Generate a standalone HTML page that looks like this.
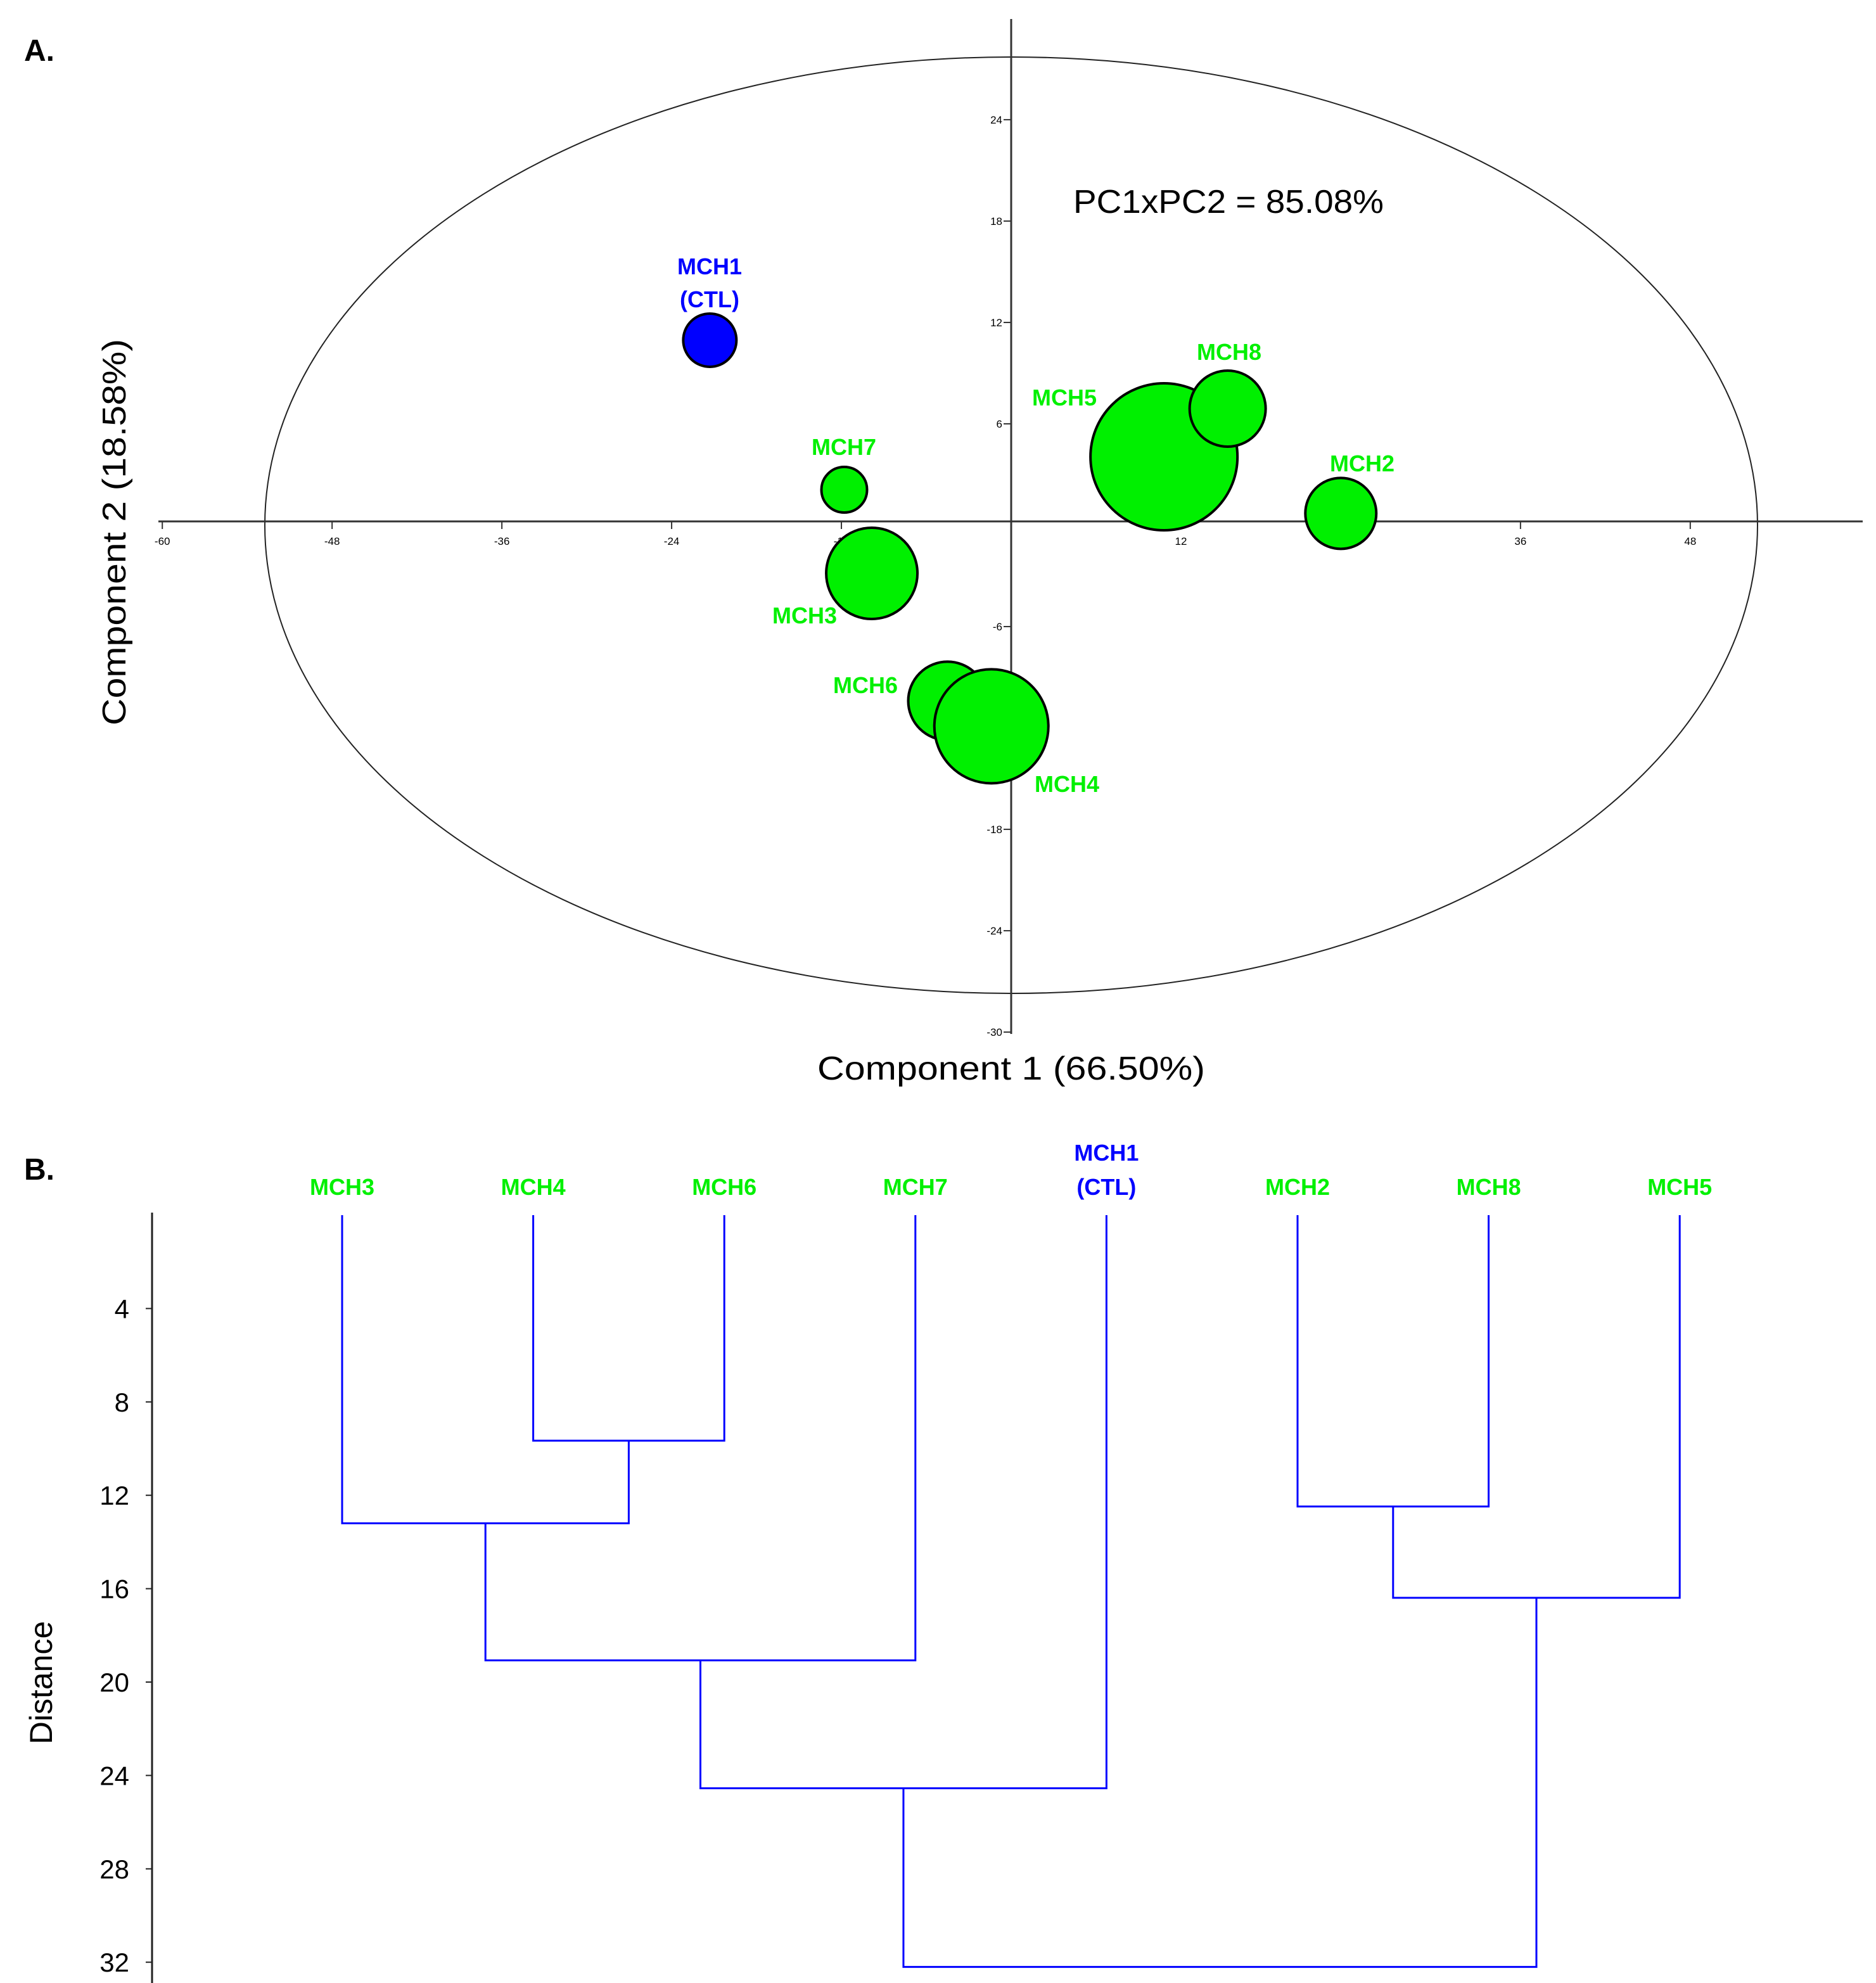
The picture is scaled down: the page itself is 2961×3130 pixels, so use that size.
<!DOCTYPE html>
<html><head><meta charset="utf-8"><style>
html,body{margin:0;padding:0;background:#fff;}
svg{display:block;}
text{font-family:"Liberation Sans",sans-serif;}
</style></head><body>
<svg id="fig" width="2961" height="3130" viewBox="0 0 2961 3130" xmlns="http://www.w3.org/2000/svg">
<text x="38" y="96" font-size="48" font-weight="bold">A.</text>
<text x="38" y="1862" font-size="48" font-weight="bold">B.</text>
<g id="pca"></g>
<g id="dendro"></g>
</svg>
<script>
// ---- PCA data ----
const pcaNames = ["MCH1","MCH7","MCH3","MCH6","MCH4","MCH5","MCH8","MCH2"];
const pcaX = [-21.3,-11.8,-9.85,-4.5,-1.4,10.8,15.3,23.3];
const pcaY = [10.95,2.1,-2.85,-10.4,-11.9,4.05,6.9,0.7];
const pcaSize = [21,18,36,31,45,58,30,28];
const xTicks = [-60,-48,-36,-24,-12,12,24,36,48];
const yTicks = [24,18,12,6,-6,-12,-18,-24,-30];
// ---- Dendrogram data ----
const leafNames = ["MCH3","MCH4","MCH6","MCH7","MCH1","MCH2","MCH8","MCH5"];
const mergeA = [1,0,9,10,5,12,11];     // node ids (0-7 leaves, 8+k = merge k)
const mergeB = [2,8,3,4,6,7,13];
const mergeH = [9.66,13.2,19.07,24.55,12.48,16.39,32.2];
const distTicks = [4,8,12,16,20,24,28,32];

const NS="http://www.w3.org/2000/svg";
function mk(parent,tag,attrs,txt){const e=document.createElementNS(NS,tag);for(const k in attrs)e.setAttribute(k,attrs[k]);if(txt!==undefined)e.textContent=txt;parent.appendChild(e);return e;}
const GREEN="#00f000", BLUE="#0000ff";

// PCA axes
const sx=v=>1596+v*22.33, sy=v=>829-v*26.67;
const pca=document.getElementById('pca');
let el=mk(pca,'ellipse',{cx:1596,cy:829,rx:1178,ry:739,fill:'none',stroke:'#222','stroke-width':2});


el=mk(pca,'line',{x1:250,y1:823,x2:2940,y2:823,stroke:'#333','stroke-width':3});


el=mk(pca,'line',{x1:1596,y1:30,x2:1596,y2:1632,stroke:'#333','stroke-width':3});


xTicks.forEach(t=>{
  mk(pca,'line',{x1:sx(t),y1:823,x2:sx(t),y2:835,stroke:'#333','stroke-width':2});
  el=mk(pca,'text',{x:sx(t),y:860,'font-size':17,'text-anchor':'middle'},String(t));
  
  
});
yTicks.forEach(t=>{
  mk(pca,'line',{x1:1584,y1:sy(t),x2:1596,y2:sy(t),stroke:'#333','stroke-width':2});
  el=mk(pca,'text',{x:1582,y:sy(t)+6,'font-size':17,'text-anchor':'end'},String(t));
  
  
});
pcaNames.forEach((n,i)=>{
  const r=pcaSize[i]*2;
  el=mk(pca,'circle',{cx:sx(pcaX[i]),cy:sy(pcaY[i]),r:r,fill:i===0?BLUE:GREEN,stroke:'#000','stroke-width':4});
  
  
});
const labPos={MCH1:[1120,433],MCH8:[1940,568],MCH5:[1680,640],MCH7:[1332,718],MCH2:[2150,744],MCH3:[1270,984],MCH6:[1366,1094],MCH4:[1684,1250]};
pcaNames.forEach((n,i)=>{
  const p=labPos[n];
  el=mk(pca,'text',{x:p[0],y:p[1],'font-size':36,'font-weight':'bold','text-anchor':'middle',fill:i===0?BLUE:GREEN},n);
  
  
});
el=mk(pca,'text',{x:1120,y:485,'font-size':36,'font-weight':'bold','text-anchor':'middle',fill:BLUE},"(CTL)");


el=mk(pca,'text',{x:1694,y:336,'font-size':52,textLength:490,lengthAdjust:'spacingAndGlyphs'},"PC1xPC2 = 85.08%");


el=mk(pca,'text',{x:1596,y:1704,'font-size':52,'text-anchor':'middle',textLength:612,lengthAdjust:'spacingAndGlyphs'},"Component 1 (66.50%)");


el=mk(pca,'text',{x:0,y:0,'font-size':52,'text-anchor':'middle',textLength:610,lengthAdjust:'spacingAndGlyphs',transform:'translate(198,840) rotate(-90)'},"Component 2 (18.58%)");



// Dendrogram
const dg=document.getElementById('dendro');
const lx=i=>540+i*301.6, dy=d=>1918+d*36.85;
el=mk(dg,'line',{x1:240,y1:1914,x2:240,y2:3130,stroke:'#222','stroke-width':3});


distTicks.forEach(t=>{
  mk(dg,'line',{x1:230,y1:dy(t),x2:240,y2:dy(t),stroke:'#222','stroke-width':2});
  el=mk(dg,'text',{x:204,y:dy(t)+15,'font-size':42,'text-anchor':'end'},String(t));
  
  
});
el=mk(dg,'text',{x:0,y:0,'font-size':50,'text-anchor':'middle',transform:'translate(82,2656) rotate(-90)'},"Distance");


const nodeX=[],nodeH=[];
leafNames.forEach((n,i)=>{nodeX.push(lx(i));nodeH.push(0);
  const blue=n==="MCH1";
  el=mk(dg,'text',{x:lx(i),y:blue?1832:1886,'font-size':36,'font-weight':'bold','text-anchor':'middle',fill:blue?BLUE:GREEN},n);
  
  
  if(blue){
    el=mk(dg,'text',{x:lx(i),y:1886,'font-size':36,'font-weight':'bold','text-anchor':'middle',fill:BLUE},"(CTL)");
    
    
  }
});
mergeH.forEach((h,k)=>{
  const a=mergeA[k],b=mergeB[k];
  const xa=nodeX[a],xb=nodeX[b];
  const d=`M${xa},${dy(nodeH[a])}V${dy(h)}H${xb}V${dy(nodeH[b])}`;
  el=mk(dg,'path',{d:d,fill:'none',stroke:BLUE,'stroke-width':3});
  
  
  nodeX.push((xa+xb)/2);nodeH.push(h);
});
</script>
</body></html>
